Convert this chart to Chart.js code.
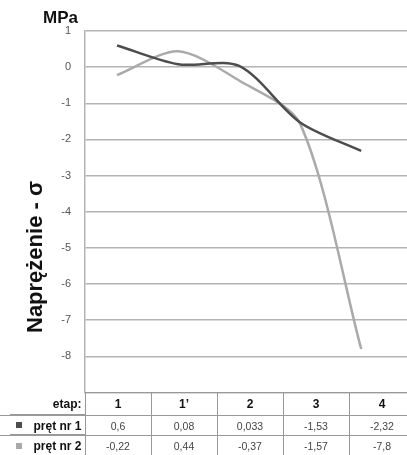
<!DOCTYPE html>
<html>
<head>
<meta charset="utf-8">
<script src="https://cdn.jsdelivr.net/npm/chart.js@4"></script>
<style>
  html, body { margin:0; padding:0; background:#fff; width:407px; height:455px; overflow:hidden; font-family:"Liberation Sans", Arial, sans-serif; }
  #wrap { position:absolute; left:0; top:0; width:407px; height:413px; }
  #unit { position:absolute; left:43px; top:8px; font-weight:bold; font-size:17px; color:#111; }
  #ytitle { position:absolute; left:35px; top:257px; transform:translate(-50%,-50%) rotate(-90deg); white-space:nowrap; font-weight:bold; font-size:22px; color:#111; }
  #tbl { position:absolute; left:0; top:392px; border-collapse:collapse; table-layout:fixed; width:415px; }
  #tbl td { padding:0; text-align:center; border:1px solid #999; color:#444; font-size:10.5px; }
  #tbl tr.h td { height:22px; font-weight:bold; font-size:12px; color:#111; }
  #tbl tr.r1 td { height:19px; }
  #tbl tr.r2 td { height:19px; }
  #tbl td.lab { text-align:right; padding-right:3px; font-weight:bold; font-size:12px; color:#111; border-left:none; border-bottom:none;
    background-image:linear-gradient(#999,#999); background-size:calc(100% - 10px) 1px; background-position:right bottom; background-repeat:no-repeat; }
  #tbl tr.h td.lab { border-top:none; }
  .sq { display:inline-block; width:6px; height:6px; margin-right:11px; vertical-align:middle; position:relative; top:-1px; }
</style>
</head>
<body>
<div id="wrap"><canvas id="c" width="407" height="413"></canvas></div>
<div id="unit">MPa</div>
<div id="ytitle">Naprężenie - σ</div>
<table id="tbl"></table>
<script>
const categories = ["1", "1’", "2", "3", "4"];
const seriesNames = ["pręt nr 1", "pręt nr 2"];
const pret1 = [0.6, 0.08, 0.033, -1.53, -2.32];
const pret2 = [-0.22, 0.44, -0.37, -1.57, -7.8];
const pret1Text = ["0,6", "0,08", "0,033", "-1,53", "-2,32"];
const pret2Text = ["-0,22", "0,44", "-0,37", "-1,57", "-7,8"];
const yTicks = [1, 0, -1, -2, -3, -4, -5, -6, -7, -8, -9];
const colors = ["#4d4d4d", "#aaaaaa"];

const toPts = arr => arr.map((v, i) => ({ x: i, y: v }));

new Chart(document.getElementById('c'), {
  type: 'line',
  data: {
    datasets: [
      { label: seriesNames[0], data: toPts(pret1), borderColor: colors[0], borderWidth: 2.5, pointRadius: 0, tension: 0.3, fill: false },
      { label: seriesNames[1], data: toPts(pret2), borderColor: colors[1], borderWidth: 2.5, pointRadius: 0, tension: 0.28, fill: false }
    ]
  },
  options: {
    responsive: false,
    animation: false,
    layout: { padding: { top: 31, right: 0, bottom: 0, left: 0 } },
    plugins: { legend: { display: false }, tooltip: { enabled: false } },
    scales: {
      x: { type: 'linear', display: false, min: -0.525, max: 4.75 },
      y: {
        min: -9, max: 1,
        afterFit: s => { s.width = 85; },
        afterBuildTicks: s => { s.ticks = yTicks.map(v => ({ value: v })); },
        ticks: {
          padding: 14,
          color: '#555',
          font: { family: 'Liberation Sans', size: 11 },
          callback: v => (v === -9 ? '' : String(v))
        },
        grid: { color: '#b4b4b4', lineWidth: 1.5, drawTicks: false },
        border: { display: true, color: '#b4b4b4', width: 1.5 }
      }
    }
  }
});

const tbl = document.getElementById('tbl');
let html = '<colgroup><col style="width:85px">' + categories.map(() => '<col style="width:66px">').join('') + '</colgroup>';
html += '<tr class="h"><td class="lab">etap:</td>' + categories.map(c => '<td>' + c + '</td>').join('') + '</tr>';
html += '<tr class="r1"><td class="lab"><span class="sq" style="background:' + colors[0] + '"></span>' + seriesNames[0] + '</td>' + pret1Text.map(t => '<td>' + t + '</td>').join('') + '</tr>';
html += '<tr class="r2"><td class="lab"><span class="sq" style="background:' + colors[1] + '"></span>' + seriesNames[1] + '</td>' + pret2Text.map(t => '<td>' + t + '</td>').join('') + '</tr>';
tbl.innerHTML = html;
</script>
</body>
</html>
